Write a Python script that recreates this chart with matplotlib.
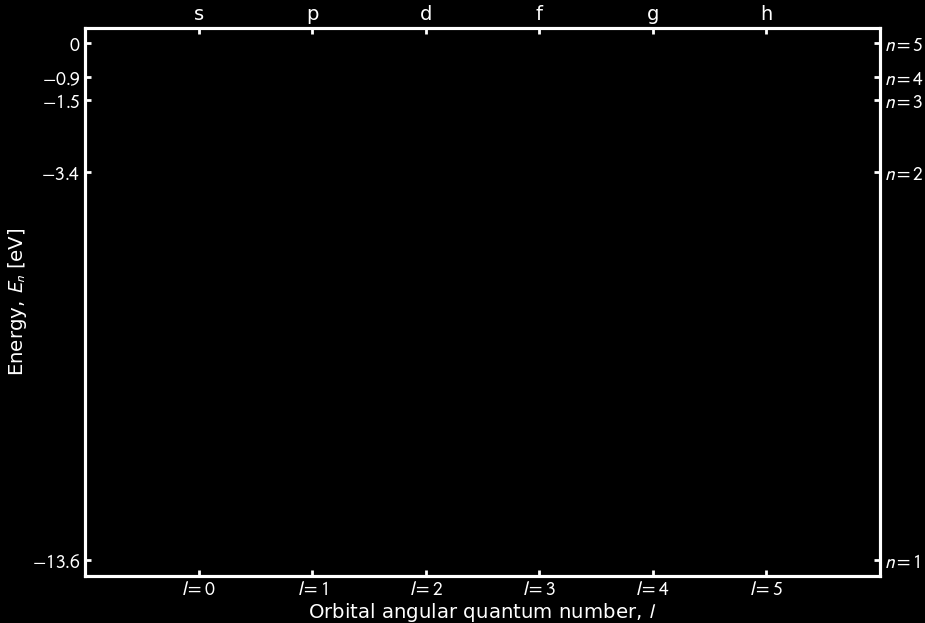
import numpy as np
import matplotlib
matplotlib.use('Agg')
import matplotlib.pyplot as plt

# Hydrogen energy levels (eV) shown as ticks
energies = [0, -0.9, -1.5, -3.4, -13.6]
energy_labels = ['$0$', '$-0.9$', '$-1.5$', '$-3.4$', '$-13.6$']
n_labels = ['$n=5$', '$n=4$', '$n=3$', '$n=2$', '$n=1$']
l_values = [0, 1, 2, 3, 4, 5]
l_labels = ['$l=%d$' % l for l in l_values]
orbital_letters = ['s', 'p', 'd', 'f', 'g', 'h']

plt.rcParams['mathtext.fontset'] = 'stixsans'
plt.rcParams['font.family'] = ['DejaVu Sans']

fig = plt.figure(figsize=(9.25, 6.23), dpi=100, facecolor='black')
ax = fig.add_axes([85/925, 1 - 576/623, 795/925, 548/623])
ax.set_facecolor('black')

ax.set_xlim(-1, 6)
ax.set_ylim(-14.02, 0.4)

ax.set_xticks(l_values)
ax.set_xticklabels(l_labels)
ax.set_yticks(energies)
ax.set_yticklabels(energy_labels)
ax.set_xlabel('Orbital angular quantum number, $l$', color='white', fontsize=14.2, labelpad=1)
ax.set_ylabel('Energy, $E_n$ [eV]', color='white', fontsize=14.2, labelpad=2)

# right axis: principal quantum number
axr = ax.twinx()
axr.set_ylim(ax.get_ylim())
axr.set_yticks(energies)
axr.set_yticklabels(n_labels)

# top axis: orbital letters
axt = ax.twiny()
axt.set_xlim(ax.get_xlim())
axt.set_xticks(l_values)
axt.set_xticklabels(orbital_letters)

for a in (ax, axr, axt):
    for s in a.spines.values():
        s.set_color('white')
        s.set_linewidth(2.2)
    a.tick_params(colors='white', direction='in', length=4, width=2, labelsize=14, pad=3)

fig.savefig('out.png', dpi=100, facecolor='black')
